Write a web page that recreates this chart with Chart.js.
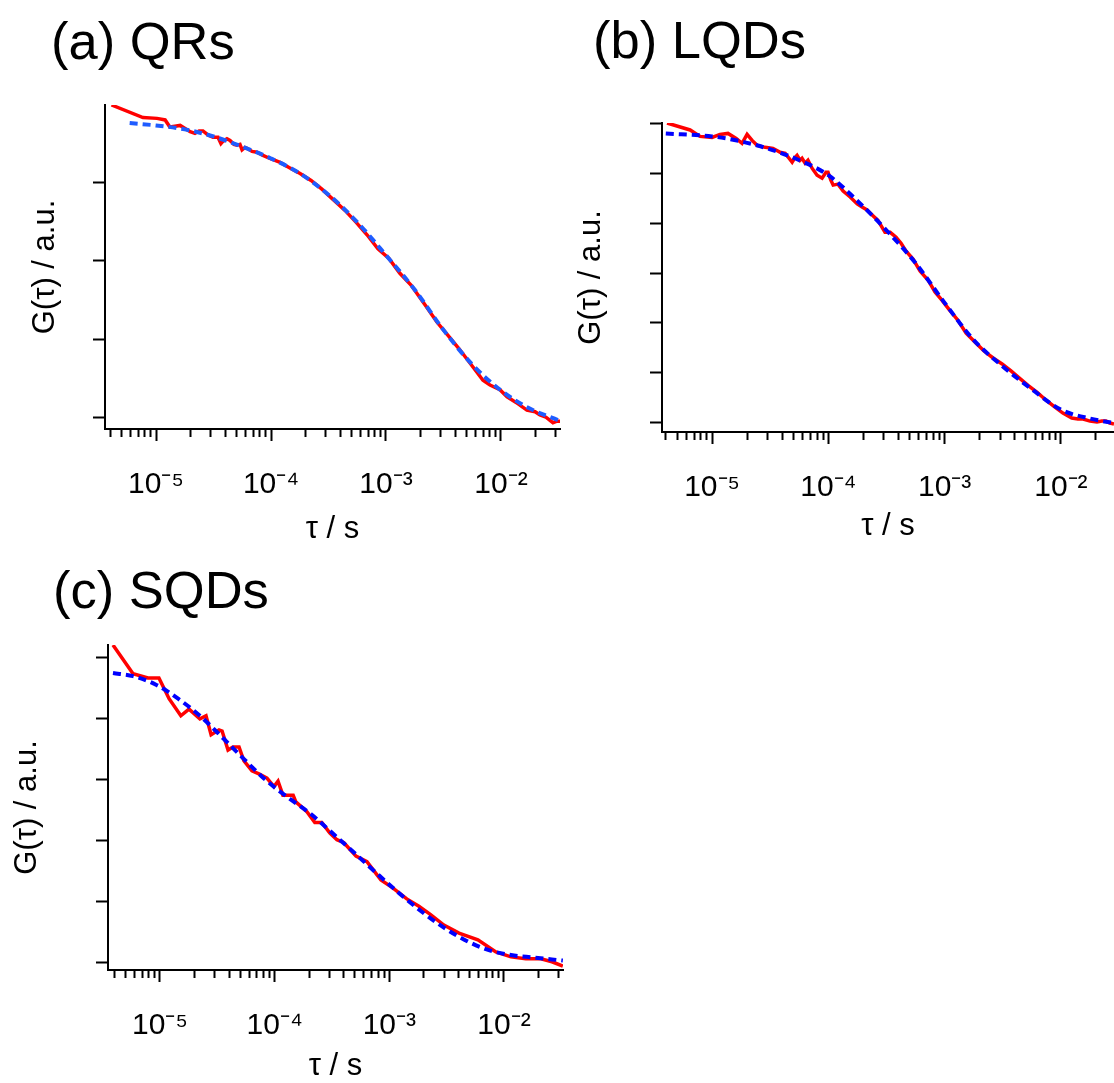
<!DOCTYPE html>
<html>
<head>
<meta charset="utf-8">
<script src="https://cdn.jsdelivr.net/npm/chart.js@4.4.0/dist/chart.umd.min.js"></script>
<style>
  html, body { margin: 0; padding: 0; background: #fff; overflow: hidden; }
  body { width: 1114px; height: 1083px; position: relative; font-family: "Liberation Sans", Arial, sans-serif; }
  .panel-label { position: absolute; font-size: 52.5px; line-height: 1; color: #000; white-space: nowrap; }
  canvas { position: absolute; }
</style>
</head>
<body>

<div class="panel-label" style="left:51px; top:15px">(a) QRs</div>
<div class="panel-label" style="left:593px; top:14px">(b) LQDs</div>
<div class="panel-label" style="left:53px; top:564px">(c) SQDs</div>

<canvas id="chartA" width="566" height="470" style="left:0px; top:95px"></canvas>
<canvas id="chartB" width="554" height="465" style="left:560px; top:100px"></canvas>
<canvas id="chartC" width="570" height="458" style="left:0px; top:630px"></canvas>

<script>
// (a) QRs - measured G(tau) and fit
const tauA = [4.1e-6, 7.7e-6, 1.02e-5, 1.20e-5, 1.32e-5, 1.46e-5, 1.62e-5, 1.79e-5, 1.98e-5, 2.18e-5,
  2.37e-5, 2.56e-5, 2.83e-5, 3.13e-5, 3.46e-5, 3.67e-5, 3.83e-5, 4.14e-5, 4.40e-5, 4.76e-5,
  5.06e-5, 5.37e-5, 5.60e-5, 5.94e-5, 6.18e-5, 6.84e-5, 7.55e-5, 8.51e-5, 9.79e-5, 1.20e-4,
  1.46e-4, 1.79e-4, 2.23e-4, 2.77e-4, 3.46e-4, 4.40e-4, 5.48e-4, 6.84e-4, 8.51e-4, 1.06e-3,
  1.32e-3, 1.65e-3, 2.23e-3, 2.77e-3, 3.46e-3, 4.32e-3, 5.37e-3, 6.97e-3, 8.02e-3, 9.79e-3,
  1.13e-2, 1.41e-2, 1.68e-2, 1.98e-2, 2.18e-2, 2.46e-2, 2.83e-2, 3.07e-2, 3.26e-2];
const gA = [3.98, 3.82, 3.81, 3.79, 3.70, 3.71, 3.72, 3.68, 3.64, 3.62,
  3.65, 3.65, 3.60, 3.57, 3.57, 3.49, 3.52, 3.55, 3.53, 3.48,
  3.47, 3.48, 3.41, 3.44, 3.43, 3.39, 3.38, 3.34, 3.30, 3.25,
  3.18, 3.11, 3.02, 2.91, 2.78, 2.64, 2.49, 2.33, 2.15, 2.03,
  1.84, 1.69, 1.42, 1.22, 1.05, 0.88, 0.70, 0.48, 0.42, 0.36,
  0.27, 0.18, 0.10, 0.08, 0.04, 0.01, -0.06, -0.04, -0.04];
const tauFitA = [5.9e-6, 1e-5, 1.78e-5, 3.16e-5, 5.62e-5, 1e-4, 1.78e-4, 3.16e-4, 5.62e-4, 1e-3,
  1.78e-3, 3.16e-3, 5.62e-3, 1e-2, 1.78e-2, 3.16e-2];
const fitA = [3.75, 3.72, 3.67, 3.58, 3.45, 3.30, 3.11, 2.84, 2.49, 2.07,
  1.63, 1.12, 0.68, 0.35, 0.12, -0.03];

// (b) LQDs
const tauB = [4.10e-6, 6.47e-6, 7.89e-6, 1.00e-5, 1.17e-5, 1.37e-5, 1.61e-5, 1.81e-5, 2.00e-5, 2.21e-5,
  2.44e-5, 2.86e-5, 3.34e-5, 3.85e-5, 4.25e-5, 4.59e-5, 4.88e-5, 5.18e-5, 5.38e-5, 5.71e-5,
  5.94e-5, 6.31e-5, 6.68e-5, 7.24e-5, 8.00e-5, 8.83e-5, 9.55e-5, 9.93e-5, 1.05e-4, 1.10e-4,
  1.21e-4, 1.34e-4, 1.54e-4, 1.77e-4, 1.95e-4, 2.15e-4, 2.38e-4, 2.67e-4, 3.07e-4, 3.40e-4,
  3.82e-4, 4.22e-4, 4.66e-4, 5.35e-4, 6.14e-4, 7.19e-4, 8.26e-4, 9.51e-4, 1.09e-3, 1.30e-3,
  1.53e-3, 1.82e-3, 2.18e-3, 2.61e-3, 3.12e-3, 3.72e-3, 4.37e-3, 5.21e-3, 6.24e-3, 7.45e-3,
  8.89e-3, 1.04e-2, 1.24e-2, 1.40e-2, 1.55e-2, 1.78e-2, 2.04e-2, 2.25e-2, 2.44e-2, 2.64e-2, 2.86e-2];
const gB = [6.02, 5.88, 5.75, 5.73, 5.79, 5.81, 5.71, 5.61, 5.79, 5.67,
  5.57, 5.53, 5.51, 5.43, 5.41, 5.31, 5.23, 5.33, 5.37, 5.27,
  5.31, 5.21, 5.27, 5.11, 4.97, 4.91, 5.03, 5.03, 4.87, 4.77,
  4.79, 4.65, 4.53, 4.39, 4.33, 4.27, 4.17, 4.06, 3.82, 3.82,
  3.72, 3.60, 3.44, 3.28, 3.04, 2.86, 2.62, 2.45, 2.27, 2.05,
  1.79, 1.61, 1.43, 1.29, 1.17, 1.03, 0.89, 0.74, 0.60, 0.44,
  0.30, 0.18, 0.08, 0.06, 0.06, 0.02, 0.00, 0.02, 0.02, -0.02, -0.04];
const tauFitB = [4.0e-6, 1e-5, 1.78e-5, 3.16e-5, 5.62e-5, 1e-4, 1.78e-4, 3.16e-4, 5.62e-4, 1e-3,
  1.78e-3, 3.16e-3, 5.62e-3, 1e-2, 1.78e-2, 2.86e-2];
const fitB = [5.81, 5.75, 5.65, 5.49, 5.27, 4.97, 4.45, 3.86, 3.20, 2.40,
  1.65, 1.12, 0.66, 0.25, 0.07, -0.02];

// (c) SQDs
const tauC = [3.89e-6, 5.82e-6, 7.85e-6, 9.79e-6, 1.20e-5, 1.52e-5, 1.79e-5, 2.23e-5, 2.52e-5, 2.79e-5,
  3.27e-5, 3.48e-5, 3.92e-5, 4.33e-5, 4.89e-5, 5.40e-5, 6.34e-5, 7.29e-5, 8.57e-5, 9.86e-5,
  1.07e-4, 1.18e-4, 1.45e-4, 1.53e-4, 1.91e-4, 2.24e-4, 2.58e-4, 3.03e-4, 3.49e-4, 4.02e-4,
  5.12e-4, 6.38e-4, 7.35e-4, 8.45e-4, 1.07e-3, 1.42e-3, 1.81e-3, 2.26e-3, 2.99e-3, 4.05e-3,
  5.92e-3, 8.49e-3, 1.15e-2, 1.55e-2, 2.10e-2, 2.62e-2, 3.26e-2];
const gC = [5.21, 4.74, 4.67, 4.67, 4.33, 4.05, 4.16, 4.00, 4.05, 3.74,
  3.82, 3.80, 3.49, 3.54, 3.54, 3.31, 3.15, 3.10, 3.03, 2.89,
  2.98, 2.75, 2.75, 2.64, 2.48, 2.30, 2.30, 2.13, 2.02, 1.97,
  1.75, 1.66, 1.51, 1.36, 1.23, 1.05, 0.93, 0.80, 0.62, 0.49,
  0.38, 0.18, 0.10, 0.07, 0.07, 0.02, -0.05];
const tauFitC = [3.89e-6, 5.82e-6, 9.23e-6, 1.44e-5, 2.23e-5, 3.48e-5, 5.40e-5, 8.57e-5, 1.33e-4, 2.07e-4,
  3.22e-4, 5.12e-4, 7.96e-4, 1.24e-3, 1.92e-3, 2.99e-3, 4.74e-3, 7.38e-3, 1.15e-2, 1.79e-2, 3.26e-2];
const fitC = [4.75, 4.70, 4.56, 4.33, 4.05, 3.70, 3.34, 2.98, 2.70, 2.44,
  2.12, 1.78, 1.45, 1.13, 0.84, 0.58, 0.36, 0.21, 0.13, 0.09, 0.04];

// unlabeled y ticks (arbitrary units)
const yTicksA = [0, 1, 2, 3];
const yTicksB = [0, 1, 2, 3, 4, 5, 6];
const yTicksC = [0, 1, 2, 3, 4, 5];

// log axis ticks: decades and the 1..9 multiples inside each
const decades = [-6, -5, -4, -3, -2, -1];
const multiples = [1, 2, 3, 4, 5, 6, 7, 8, 9];

const xTitle = 'τ / s';
const yTitle = 'G(τ) / a.u.';

Chart.defaults.font.family = '"Liberation Sans", Arial, sans-serif';
Chart.defaults.color = '#000';

const SUP = {'-': '\u207B', '0': '\u2070', '1': '\u00B9', '2': '\u00B2', '3': '\u00B3',
  '4': '\u2074', '5': '\u2075', '6': '\u2076', '7': '\u2077', '8': '\u2078', '9': '\u2079'};

function isDecade(v) {
  const l = Math.log10(v);
  return Math.abs(l - Math.round(l)) < 1e-6;
}

function decadeLabel(v) {
  if (!isDecade(v)) return '';
  const e = Math.round(Math.log10(v));
  return '10' + String(e).split('').map(c => SUP[c]).join('');
}

function logTicks(min, max) {
  const out = [];
  decades.forEach(d => {
    multiples.forEach(m => {
      const v = m * Math.pow(10, d);
      if (v >= min && v <= max) out.push(v);
    });
  });
  return out;
}

function toPoints(xs, ys) {
  return xs.map((x, i) => ({x: x, y: ys[i]}));
}

function makePanel(id, p) {
  new Chart(document.getElementById(id), {
    type: 'line',
    data: {
      datasets: [
        {
          label: 'fit',
          data: toPoints(p.tauFit, p.fit),
          borderColor: p.fitColor,
          borderWidth: 4,
          borderDash: [8, 5],
          pointRadius: 0,
          cubicInterpolationMode: 'monotone',
          order: 0
        },
        {
          label: 'data',
          data: toPoints(p.tau, p.g),
          borderColor: '#ff0000',
          borderWidth: 3.5,
          pointRadius: 0,
          tension: 0,
          order: 1
        }
      ]
    },
    options: {
      responsive: false,
      animation: false,
      events: [],
      layout: {padding: {top: p.padTop, right: p.padRight, left: 0, bottom: 0}},
      plugins: {legend: {display: false}, tooltip: {enabled: false}},
      scales: {
        x: {
          type: 'logarithmic',
          position: 'bottom',
          min: p.xMin,
          max: p.xMax,
          afterBuildTicks: s => { s.ticks = logTicks(p.xMin, p.xMax).map(v => ({value: v})); },
          afterFit: s => {
            s.height = p.xH;
            // tick padding must not shrink the plot width
            s.paddingLeft = 0;
            s.paddingRight = 0;
          },
          border: {color: '#000', width: 2},
          grid: {
            drawOnChartArea: false,
            color: '#000',
            tickColor: '#000',
            tickWidth: 2,
            tickLength: 12,
            // minor ticks drawn shorter than the decade ticks
            tickBorderDash: ctx => (ctx.tick && isDecade(ctx.tick.value)) ? [] : [7, 40]
          },
          ticks: {
            autoSkip: false,
            maxRotation: 0,
            minRotation: 0,
            padding: p.tickPad,
            font: {size: 30},
            color: '#000',
            callback: v => decadeLabel(v)
          },
          title: {
            display: true,
            text: xTitle,
            font: {size: 31},
            color: '#000',
            padding: {top: 0, bottom: p.xTitlePad}
          }
        },
        y: {
          type: 'linear',
          position: 'left',
          min: p.yMin,
          max: p.yMax,
          afterBuildTicks: s => { s.ticks = p.yTicks.map(v => ({value: v})); },
          afterFit: s => { s.width = p.yW; },
          border: {color: '#000', width: 2},
          grid: {
            drawOnChartArea: false,
            tickColor: '#000',
            tickWidth: 2,
            tickLength: 12
          },
          ticks: {display: false},
          title: {
            display: true,
            text: yTitle,
            font: {size: 31},
            color: '#000',
            padding: {top: p.yTitlePad, bottom: 0}
          }
        }
      }
    }
  });
}

makePanel('chartA', {
  tau: tauA, g: gA, tauFit: tauFitA, fit: fitA, fitColor: '#1f5cff',
  xMin: 3.6e-6, xMax: 3.26e-2, yMin: -0.14, yMax: 3.98, yTicks: yTicksA,
  padTop: 10, padRight: 6, yW: 105, xH: 136, tickPad: 26, xTitlePad: 17, yTitlePad: 27
});

makePanel('chartB', {
  tau: tauB, g: gB, tauFit: tauFitB, fit: fitB, fitColor: '#0000ff',
  xMin: 3.71e-6, xMax: 2.86e-2, yMin: -0.2, yMax: 6.02, yTicks: yTicksB,
  padTop: 23, padRight: 0, yW: 102, xH: 133, tickPad: 26, xTitlePad: 20, yTitlePad: 13
});

makePanel('chartC', {
  tau: tauC, g: gC, tauFit: tauFitC, fit: fitC, fitColor: '#0000ff',
  xMin: 3.52e-6, xMax: 3.27e-2, yMin: -0.115, yMax: 5.21, yTicks: yTicksC,
  padTop: 15, padRight: 7, yW: 108, xH: 118, tickPad: 26, xTitlePad: 3, yTitlePad: 9
});
</script>
</body>
</html>
